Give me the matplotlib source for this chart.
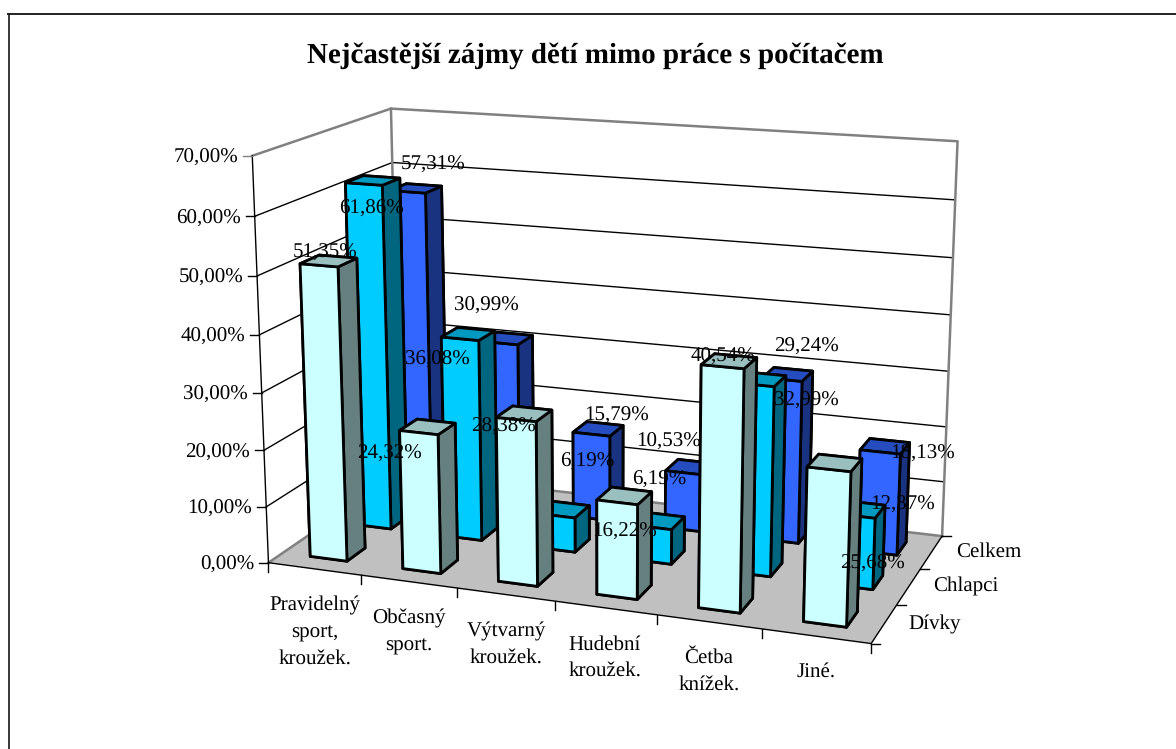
import numpy as np
import matplotlib
matplotlib.use('Agg')
import matplotlib.pyplot as plt
from matplotlib.lines import Line2D
from mpl_toolkits.mplot3d import proj3d
from mpl_toolkits.mplot3d.art3d import Poly3DCollection

# Data
categories = ['Pravidelný\nsport,\nkroužek.', 'Občasný\nsport.', 'Výtvarný\nkroužek.',
              'Hudební\nkroužek.', 'Četba\nknížek.', 'Jiné.']
series = ['Dívky', 'Chlapci', 'Celkem']
divky = [51.35, 24.32, 28.38, 16.22, 40.54, 25.68]
chlapci = [61.86, 36.08, 6.19, 6.19, 32.99, 12.37]
celkem = [57.31, 30.99, 15.79, 10.53, 29.24, 18.13]
z_ticks = [0, 10, 20, 30, 40, 50, 60, 70]

W, H = 1176, 749

# front, side and top colours of each series
colors = [('#CCFFFF', '#668080', '#99BFBF'),
          ('#00CCFF', '#006680', '#0099BF'),
          ('#3366FF', '#1A3380', '#264DBF')]

# where the chart box sits in the picture, used to fit the camera
world = [(0, 0, 70), (0, 3, 70), (6, 3, 70), (0, 0, 0), (6, 0, 0), (6, 3, 0),
         (0, 0, 60), (0, 0, 10), (6, 3, 60),
         (1, 0, 0), (2, 0, 0), (3, 0, 0), (4, 0, 0), (5, 0, 0), (6, 1, 0), (6, 2, 0)]
image = [(252.3, 155.7), (390.7, 109), (957.3, 141.7), (269, 562.3), (870.7, 642.7), (941.7, 535.7),
         (255, 216), (265, 506.7), (955.7, 199.3),
         (361.7, 575), (457, 588), (556, 601.7), (657, 616), (762, 629), (897, 605), (921, 569)]


def norm(u, v):
    # pixel -> the -1..1 square mplot3d expects
    return (u - W / 2) / (W / 2), (H / 2 - v) / (W / 2)


def fit_camera():
    rows = []
    for (x, y, z), (px, py) in zip(world, image):
        u, v = norm(px, py)
        rows.append([x, y, z, 1, 0, 0, 0, 0, -u * x, -u * y, -u * z, -u])
        rows.append([0, 0, 0, 0, x, y, z, 1, -v * x, -v * y, -v * z, -v])
    p = np.linalg.svd(np.array(rows, dtype=float))[2][-1].reshape(3, 4)
    p = p / (p[2] @ np.array([3, 1.5, 35, 1]))
    return np.array([p[0], p[1], [0, 0, 0, -1], p[2]])


M = fit_camera()


def to_px(x, y, z):
    u, v, _ = proj3d.proj_transform(x, y, z, M)
    return float(u) * W / 2 + W / 2, H / 2 - float(v) * W / 2


def put_text(u, v, s, **kw):
    kw.setdefault('ha', 'center')
    kw.setdefault('va', 'center')
    kw.setdefault('fontsize', 15)
    kw.setdefault('color', 'black')
    # va='center' lands a bit high with this font
    return fig.text(u / W, 1 - (v + 2) / H, s, **kw)


def pct(val):
    return ('%.2f%%' % val).replace('.', ',')


plt.rcParams['font.family'] = ['Liberation Serif', 'DejaVu Serif']
plt.rcParams['text.hinting'] = 'no_hinting'
plt.rcParams['text.hinting_factor'] = 1
fig = plt.figure(figsize=(W / 100, H / 100), dpi=100)
h = W / H
ax = fig.add_axes([0, (1 - h) / 2, 1, h], projection='3d', computed_zorder=False)
ax.set_axis_off()
ax.patch.set_visible(False)
ax.get_proj = lambda: M

GRAY = '#808080'

# floor
floor = [[(0, 0, 0), (6, 0, 0), (6, 3, 0), (0, 3, 0)]]
ax.add_collection3d(Poly3DCollection(floor, facecolors='#C0C0C0', edgecolors='none', zorder=1))

# gridlines on the two walls
for z in z_ticks[1:-1]:
    ax.plot([0, 0, 6], [0, 3, 3], [z, z, z], color='black', lw=1.0, zorder=2)

# box edges
ax.plot([0, 0, 6, 6], [0, 3, 3, 3], [70, 70, 70, 0], color=GRAY, lw=1.8, zorder=2)
ax.plot([0, 0], [3, 3], [0, 70], color=GRAY, lw=1.8, zorder=2)
ax.plot([0, 0, 6], [0, 3, 3], [0, 0, 0], color=GRAY, lw=1.8, zorder=2)
ax.plot([0, 0], [0, 0], [0, 70], color='black', lw=1.0, zorder=3)
ax.plot([0, 6, 6], [0, 0, 3], [0, 0, 0], color='black', lw=1.0, zorder=3)

# ticks
for z in z_ticks:
    u, v = to_px(0, 0, z)
    fig.add_artist(Line2D([(u - 9) / W, u / W], [1 - v / H, 1 - v / H], color=GRAY if z == 70 else 'black', lw=1.0))
    put_text(u - 14, v, pct(z), ha='right')
for i in range(7):
    u, v = to_px(i, 0, 0)
    fig.add_artist(Line2D([u / W, u / W], [1 - v / H, 1 - (v + 9) / H], color='black', lw=1.0))
for j in range(4):
    u, v = to_px(6, j, 0)
    fig.add_artist(Line2D([u / W, (u + 9) / W], [1 - v / H, 1 - v / H], color='black', lw=1.0))

# bars, back row first so that nearer ones cover them
values = [divky, chlapci, celkem]
bar_w, bar_d = 0.4, 0.4
for j in [2, 1, 0]:
    front, side, top = colors[j]
    for i, val in enumerate(values[j]):
        ax.bar3d(i + 0.5 - bar_w / 2, j + 0.5 - bar_d / 2, 0, bar_w, bar_d, val,
                 color=[front, top, front, front, side, side], shade=False,
                 edgecolor='black', linewidth=2.0, zorder=10 + (2 - j) * 10 + i)

ax.viewLim.intervalx = (-1, 1)
ax.viewLim.intervaly = (-1, 1)

# axis labels
cat_xy = [(315, 630), (409, 630), (506, 642.5), (605, 655.5), (709, 669), (816, 670)]
for name, (u, v) in zip(categories, cat_xy):
    put_text(u, v, name, linespacing=1.5, multialignment='center')
ser_xy = [(935, 622), (966, 584), (988.5, 550)]
for name, (u, v) in zip(series, ser_xy):
    put_text(u, v, name)

# data labels sit where the original left them
label_xy = [[(325, 251), (389, 452), (503, 425), (625, 530), (723, 355), (872, 562)],
            [(371, 207), (437.7, 358), (587, 460), (659, 478), (806.7, 399), (902.7, 503)],
            [(433, 162.7), (486, 304), (617, 414), (669, 440), (806.7, 345), (922.7, 452)]]
for vals, xy in zip(values, label_xy):
    for val, (u, v) in zip(vals, xy):
        put_text(u, v, pct(val))

put_text(595.5, 54, 'Nejčastější zájmy dětí mimo práce s počítačem', fontsize=21.2, fontweight='bold')

# chart frame, open on the right and at the bottom
fig.add_artist(Line2D([8.5 / W, 8.5 / W], [0, 1 - 14 / H], color='black', lw=1.1))
fig.add_artist(Line2D([8 / W, 1], [1 - 14 / H, 1 - 14 / H], color='#222222', lw=1.4))

fig.savefig('out.png', dpi=100, facecolor='white')
